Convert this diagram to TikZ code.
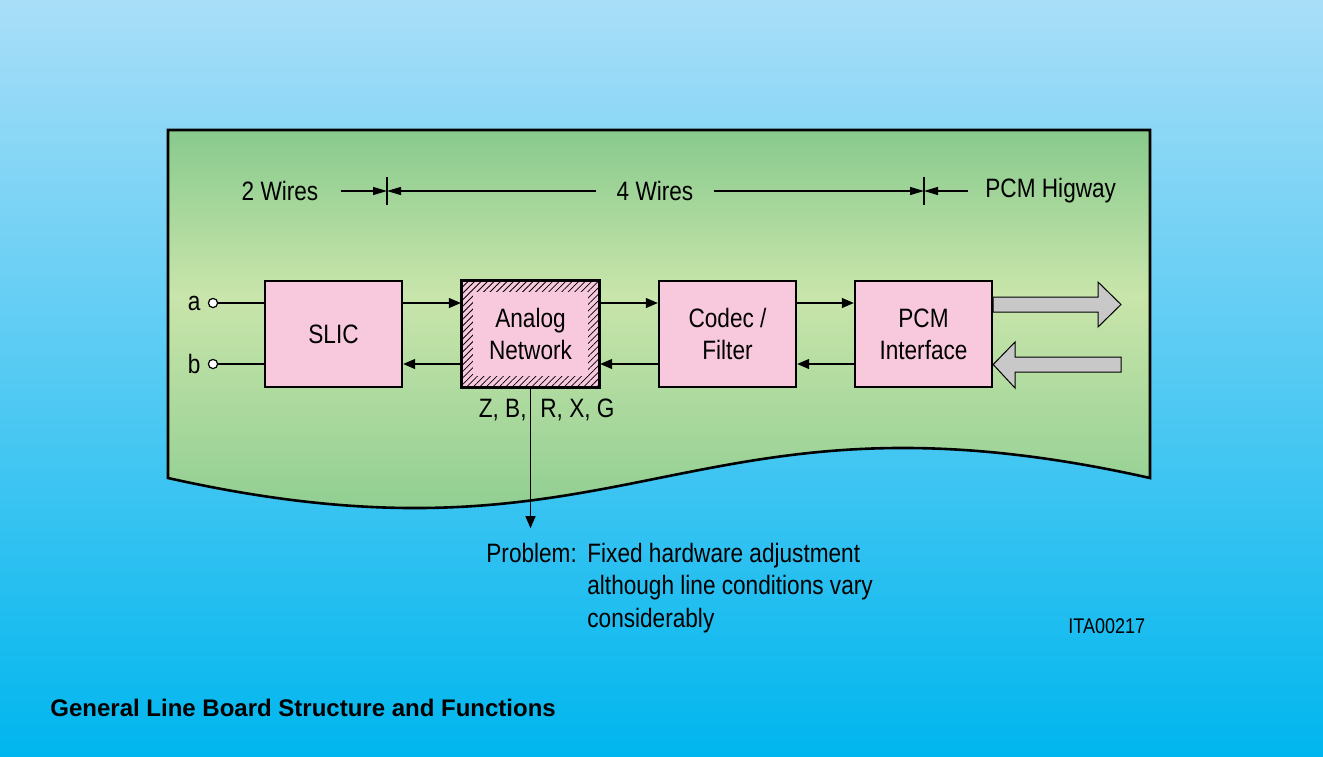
\documentclass[tikz,border=0pt]{standalone}
\usepackage{fontspec}
\setmainfont{Liberation Sans}
\newfontfamily\condfont[FakeStretch=0.85]{Liberation Sans}
\usepackage{tikz}
\usetikzlibrary{arrows.meta,positioning,patterns.meta,calc}
\definecolor{skytop}{HTML}{A9DEF8}
\definecolor{skybot}{HTML}{00B6EE}
\definecolor{boardtop}{HTML}{86C98C}
\definecolor{boardmid}{HTML}{C9E5AB}
\definecolor{boardbot}{HTML}{8ECD90}
\definecolor{blockpink}{HTML}{F8C9DD}
\definecolor{busgray}{HTML}{C8C8C8}
\tikzset{
  block/.style={rectangle, draw=black, line width=1.2pt, fill=blockpink, minimum width=68.5pt, minimum height=53pt, align=center, font=\condfont\fontsize{13.3}{16}\selectfont},
  lbl/.style={font=\condfont\fontsize{13.3}{16}\selectfont, inner sep=0pt},
  term/.style={circle, draw=black, fill=white, line width=0.6pt, minimum size=4.6pt, inner sep=0pt},
  flow/.style={-{Triangle[length=6pt,width=5pt]}, line width=0.6pt},
  dim/.style={-{Triangle[length=7pt,width=4pt]}, line width=0.6pt},
  bus/.style={draw=black, line width=0.5pt, fill=busgray},
}

\begin{document}
\begin{tikzpicture}[x=0.5pt, y=-0.5pt]
  \useasboundingbox (0,0) rectangle (1323,756);
  \shade[top color=skytop, bottom color=skybot] (0,0) rectangle (1323,756);
  % line board
  \begin{scope}
    \clip (168,130) -- (1150,130) -- (1150,478) .. controls (686,374) and (632,582) .. (168,478) -- cycle;
    \shade[top color=boardtop, bottom color=boardmid] (160,125) rectangle (1160,295);
    \shade[top color=boardmid, bottom color=boardbot] (160,295) rectangle (1160,520);
  \end{scope}
  \draw[line width=1.3pt] (168,130) -- (1150,130) -- (1150,478) .. controls (686,374) and (632,582) .. (168,478) -- cycle;

  \node[lbl] (two) at (280,191) {2 Wires};
  \node[lbl] (four) at (655,191) {4 Wires};
  \node[lbl,anchor=west] (hwy) at (985,191) {PCM Higway};
  \coordinate (t1) at (387,191);
  \coordinate (t2) at (924,191);
  \draw[line width=0.6pt] ($(t1)+(0,-14)$) -- ($(t1)+(0,14)$);
  \draw[line width=0.6pt] ($(t2)+(0,-14)$) -- ($(t2)+(0,14)$);
  \draw[dim] ($(two.east)+(22,0)$) -- (t1);
  \draw[dim] ($(four.west)+(-20,0)$) -- (t1);
  \draw[dim] ($(four.east)+(20,0)$) -- (t2);
  \draw[dim] ($(hwy.west)+(-17,0)$) -- (t2);

  \node[block] (slic) at (333.5,334) {SLIC};
  \node[block] (ana) at (530.5,334) {};
  \fill[pattern={Lines[angle=45,distance=2.3pt,line width=0.4pt]}] (ana.north west) rectangle (ana.south east);
  \fill[blockpink] ($(ana.north west)+(12,12)$) rectangle ($(ana.south east)+(-12,-12)$);
  \draw[line width=1.2pt] (ana.north west) rectangle (ana.south east);
  \node[lbl,align=center] at (ana) {Analog\\Network};
  \node[block] (codec) at (727.5,334) {Codec /\\Filter};
  \node[block] (pcm) at (923.5,334) {PCM\\Interface};

  \node[term] (ta) at (213,303) {};
  \node[term] (tb) at (213,364) {};
  \node[lbl,anchor=east] at ($(ta.west)+(-7,0)$) {a};
  \node[lbl,anchor=east] at ($(tb.west)+(-7,0)$) {b};
  \draw[line width=0.6pt] (ta) -- (slic.west |- ta);
  \draw[line width=0.6pt] (tb) -- (slic.west |- tb);

  \draw[flow] (slic.east |- ta) -- (ana.west |- ta);
  \draw[flow] (ana.east |- ta) -- (codec.west |- ta);
  \draw[flow] (codec.east |- ta) -- (pcm.west |- ta);
  \draw[flow] (pcm.west |- tb) -- (codec.east |- tb);
  \draw[flow] (codec.west |- tb) -- (ana.east |- tb);
  \draw[flow] (ana.west |- tb) -- (slic.east |- tb);

  \draw[bus] (pcm.east |- 0,297) -- (1098,297) -- (1098,282) -- (1121,304.5) -- (1098,327) -- (1098,312) -- (pcm.east |- 0,312) -- cycle;
  \draw[bus] (1121,357) -- (1015,357) -- (1015,342) -- (pcm.east |- 0,364.5) -- (1015,388) -- (1015,372) -- (1121,372) -- cycle;

  \node[lbl,anchor=east] (zb) at (527,410) {Z, B,};
  \node[lbl,anchor=west] (rxg) at (540,410) {R, X, G};
  \node[lbl,anchor=north west,align=left] (prob) at (486,543) {Problem:};
  \node[lbl,anchor=north west,align=left] (desc) at (587,543) {Fixed hardware adjustment\\[0.1pt]although line conditions vary\\[0.1pt]considerably};
  \draw[flow] (ana.south) -- ++(0,140);

  \node[font=\condfont\fontsize{10.6}{12}\selectfont, inner sep=0pt, anchor=west] (ita) at (1068,626) {ITA00217};
  \node[font=\bfseries\fontsize{12}{14}\selectfont, inner sep=0pt, anchor=west] (title) at (50,708) {General Line Board Structure and Functions};
\end{tikzpicture}
\end{document}
